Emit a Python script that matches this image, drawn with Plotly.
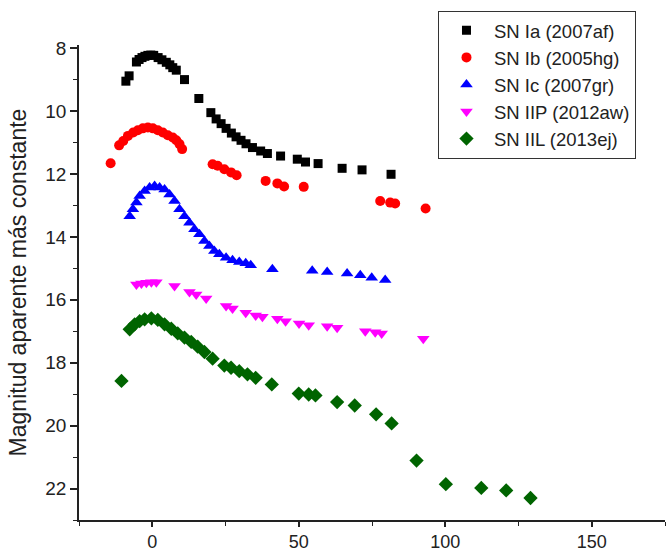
import plotly.graph_objects as go

# ---------------- data ----------------
ia_days = [-9.0, -7.9, -5.4, -4.5, -3.5, -2.5, -1.5, -0.5, 0.5, 2.0, 3.3, 4.8, 6.0, 7.0, 8.2,
           11.0, 15.9, 20.0, 21.8, 23.5, 25.2, 27.0, 28.6, 30.3, 32.0, 34.2, 37.0, 39.3,
           43.8, 49.5, 52.3, 56.6, 64.8, 71.6, 81.5]
ia_mags = [9.05, 8.88, 8.44, 8.36, 8.30, 8.26, 8.23, 8.22, 8.23, 8.30, 8.37, 8.45, 8.53, 8.62, 8.70,
           9.00, 9.60, 10.05, 10.25, 10.40, 10.55, 10.70, 10.82, 10.93, 11.04, 11.16, 11.27, 11.35,
           11.43, 11.53, 11.62, 11.67, 11.82, 11.87, 12.01]

ib_days = [-14.2, -11.3, -9.9, -8.3, -6.5, -4.9, -3.2, -1.5, 0.2, 1.9, 3.6, 5.3, 7.0, 8.2, 9.3, 10.2,
           20.6, 22.3, 24.6, 26.9, 28.8, 38.7, 42.7, 45.0, 51.7, 77.8, 81.2, 82.9, 93.3]
ib_mags = [11.66, 11.09, 10.95, 10.79, 10.68, 10.61, 10.55, 10.52, 10.55, 10.61, 10.68, 10.77, 10.84,
           10.93, 11.05, 11.21, 11.69, 11.74, 11.85, 11.95, 12.04, 12.22, 12.30, 12.40, 12.41,
           12.86, 12.91, 12.94, 13.10]

ic_days = [-7.7, -6.6, -5.4, -4.3, -2.6, -0.9, 0.8, 2.5, 4.2, 5.9, 7.6, 9.3, 11.0, 12.7, 14.4, 16.1,
           17.8, 19.5, 21.2, 22.9, 25.2, 27.4, 29.7, 31.9, 33.6, 41.0, 54.6, 59.7, 66.5, 71.0,
           74.9, 79.5]
ic_mags = [13.34, 13.12, 12.91, 12.70, 12.54, 12.43, 12.38, 12.43, 12.49, 12.65, 12.86, 13.12, 13.34,
           13.55, 13.76, 13.92, 14.13, 14.29, 14.45, 14.55, 14.66, 14.74, 14.80, 14.84, 14.90,
           15.03, 15.08, 15.12, 15.16, 15.22, 15.30, 15.37]

iip_days = [-5.4, -3.7, -2.0, -0.3, 1.4, 7.6, 12.7, 15.0, 18.4, 25.2, 27.4, 31.9, 35.3, 37.6, 42.7,
            45.5, 50.1, 53.4, 59.7, 63.1, 72.7, 76.1, 78.3, 92.5]
iip_mags = [15.51, 15.48, 15.46, 15.44, 15.44, 15.56, 15.75, 15.83, 15.96, 16.20, 16.28, 16.41, 16.50,
            16.54, 16.60, 16.68, 16.75, 16.81, 16.84, 16.89, 17.00, 17.03, 17.07, 17.24]

iil_days = [-10.5, -7.7, -6.0, -4.3, -2.6, -0.3, 1.9, 4.2, 6.5, 8.7, 11.0, 13.3, 15.5, 17.8, 20.6,
            24.6, 26.9, 29.7, 32.5, 35.3, 40.8, 50.0, 53.4, 55.7, 63.1, 69.1, 76.4, 81.7, 90.2,
            100.2, 112.3, 120.8, 129.1]
iil_mags = [18.58, 16.94, 16.78, 16.68, 16.62, 16.59, 16.64, 16.78, 16.92, 17.07, 17.20, 17.34, 17.49,
            17.66, 17.87, 18.09, 18.16, 18.27, 18.37, 18.48, 18.69, 18.98, 19.01, 19.04, 19.25,
            19.36, 19.64, 19.93, 21.11, 21.86, 21.98, 22.06, 22.30]

names = ["SN Ia (2007af)", "SN Ib (2005hg)", "SN Ic (2007gr)", "SN IIP (2012aw)", "SN IIL (2013ej)"]
x_ticks = [0, 50, 100, 150]
y_ticks = [8, 10, 12, 14, 16, 18, 20, 22]

# ---------------- figure ----------------
series = [
    (ia_days, ia_mags, "square", "#000000", 9),
    (ib_days, ib_mags, "circle", "#FF0000", 10),
    (ic_days, ic_mags, "triangle-up", "#0000FF", 11),
    (iip_days, iip_mags, "triangle-down", "#FF00FF", 11),
    (iil_days, iil_mags, "diamond", "#006400", 11),
]

fig = go.Figure()
for (xs, ys, sym, col, sz), nm in zip(series, names):
    fig.add_trace(go.Scatter(
        x=xs, y=ys, mode="markers", name=nm,
        marker=dict(symbol=sym, color=col, size=sz, line=dict(width=0)),
    ))

font_family = "Liberation Sans, Arial, sans-serif"

fig.update_layout(
    template="none",
    width=671, height=552,
    margin=dict(l=79, r=6, t=45, b=32, autoexpand=False),
    paper_bgcolor="white", plot_bgcolor="white",
    font=dict(family=font_family, size=19, color="#222222"),
    showlegend=True,
    legend=dict(
        x=0.6126, y=1.072, xanchor="left", yanchor="top",
        bgcolor="white", bordercolor="#333333", borderwidth=1,
        font=dict(family=font_family, size=18.5, color="#222222"),
        itemwidth=45,
        entrywidth=215,
    ),
    xaxis=dict(
        range=[-25, 175], tickmode="array", tickvals=x_ticks,
        ticktext=[str(v) for v in x_ticks],
        showline=True, linecolor="#222222", linewidth=1.5,
        ticks="outside", ticklen=5, tickwidth=1.5, tickcolor="#222222",
        minor=dict(dtick=25, tick0=0, ticks="outside", ticklen=4, tickwidth=1.2, tickcolor="#222222"),
        showgrid=False, zeroline=False, automargin=False,
        tickfont=dict(size=18),
    ),
    yaxis=dict(
        range=[23, 7.9], tickmode="array", tickvals=y_ticks,
        ticktext=[str(v) for v in y_ticks],
        showline=True, linecolor="#222222", linewidth=1.5,
        ticks="outside", ticklen=7, tickwidth=1.5, tickcolor="#222222",
        minor=dict(dtick=1, tick0=8, ticks="outside", ticklen=4, tickwidth=1.2, tickcolor="#222222"),
        showgrid=False, zeroline=False, automargin=False,
        tickfont=dict(size=19),
        title=dict(text="Magnitud aparente más constante", font=dict(size=23), standoff=12),
    ),
)

fig.write_html(
    "out.html",
    config={"displayModeBar": False},
    post_script="document.body.style.margin='0';document.body.style.overflow='hidden';",
)
